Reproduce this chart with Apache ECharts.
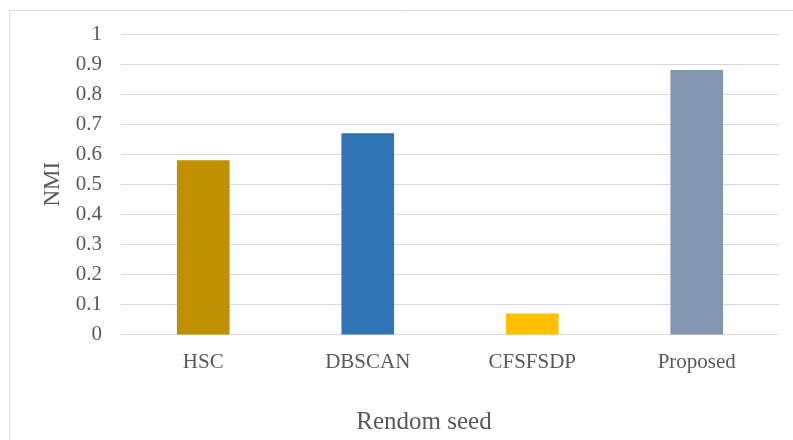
<!DOCTYPE html>
<html>
<head>
<meta charset="utf-8">
<script src="https://cdn.jsdelivr.net/npm/echarts@6/dist/echarts.min.js"></script>
<style>
  html, body { margin: 0; padding: 0; background: #ffffff; }
  #chart { width: 793px; height: 440px; }
</style>
</head>
<body>
<div id="chart"></div>
<script>
// NMI score per clustering method
const methods = ['HSC', 'DBSCAN', 'CFSFSDP', 'Proposed'];
const nmiValues = [0.58, 0.67, 0.07, 0.88];
const barColors = ['#BF9000', '#2E75B6', '#FFC000', '#8497B0'];
const yTicks = [0, 0.1, 0.2, 0.3, 0.4, 0.5, 0.6, 0.7, 0.8, 0.9, 1];

const textColor = '#595959';
const serif = '"Liberation Serif", "Times New Roman", serif';

const chart = echarts.init(document.getElementById('chart'), null, { renderer: 'canvas' });

chart.setOption({
  backgroundColor: '#ffffff',
  animation: false,
  graphic: [{
    type: 'rect',
    left: 7, top: 8,
    shape: { width: 800, height: 450 },
    style: { fill: 'none', stroke: '#d9d9d9', lineWidth: 1 },
    silent: true,
    z: -1
  }],
  grid: { left: 121, right: 14, top: 34, bottom: 104, containLabel: false },
  xAxis: {
    type: 'category',
    data: methods,
    name: 'Rendom seed',
    nameLocation: 'middle',
    nameGap: 88,
    // title sits centred on the whole frame rather than the plot
    nameTextStyle: {
      color: textColor, fontFamily: serif, fontSize: 25,
      verticalAlign: 'middle', padding: [0, 52, 0, 0]
    },
    axisLine: { show: true, lineStyle: { color: '#d9d9d9', width: 1 } },
    axisTick: { show: false },
    axisLabel: { color: textColor, fontFamily: serif, fontSize: 21, margin: 17 }
  },
  yAxis: {
    type: 'value',
    min: yTicks[0],
    max: yTicks[yTicks.length - 1],
    interval: 0.1,
    name: 'NMI',
    nameLocation: 'middle',
    nameGap: 67,
    nameRotate: 90,
    nameTextStyle: { color: textColor, fontFamily: serif, fontSize: 23, verticalAlign: 'middle' },
    axisLine: { show: false },
    axisTick: { show: false },
    splitLine: { show: true, lineStyle: { color: '#d9d9d9', width: 1 } },
    axisLabel: {
      color: textColor, fontFamily: serif, fontSize: 21, margin: 19,
      formatter: v => String(Math.round(v * 10) / 10)
    }
  },
  series: [{
    type: 'bar',
    barWidth: '32%',
    data: nmiValues.map((v, i) => ({ value: v, itemStyle: { color: barColors[i] } }))
  }]
});
</script>
</body>
</html>
